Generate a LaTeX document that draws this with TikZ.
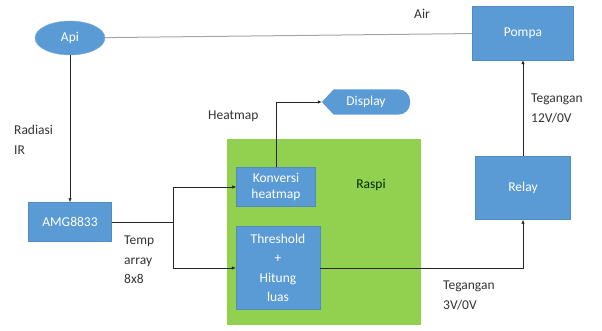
\documentclass[tikz,border=0pt]{standalone}
\usepackage{fontspec}
\setmainfont{Carlito}
\usetikzlibrary{positioning,arrows.meta,shapes.geometric,backgrounds}
\definecolor{boxblue}{RGB}{91,155,213}
\definecolor{boxgreen}{RGB}{146,208,80}

\begin{document}
\begin{tikzpicture}[
    x=1pt, y=-1pt,
    font=\fontsize{13.5}{19.5}\selectfont,
    block/.style={
        rectangle,
        fill=boxblue,
        draw=boxblue!90!black,
        line width=0.4pt,
        text=white,
        align=center,
        inner sep=2pt
    },
    lbl/.style={align=left, inner sep=0pt, text=black!80, anchor=north west},
    arrow/.style={-{Latex[length=4pt,width=3.5pt]}, line width=0.7pt, black!85},
    wire/.style={line width=0.7pt, black!85}
]
\useasboundingbox (0,0) rectangle (602,331);

% blocks
\node[rectangle, fill=boxgreen, minimum width=194pt, minimum height=186pt] (raspi) at (324,232) {};
\node[text=black!75!green!60!black] (raspilbl) at (371,185) {Raspi};
\node[ellipse, fill=boxblue, draw=boxblue!80!white, text=white, minimum width=70pt, minimum height=34pt, inner sep=1pt] (api) at (70,38) {Api};
\node[block, minimum width=101pt, minimum height=54pt] (pompa) at (523,33) {Pompa};
\node[block, minimum width=95pt, minimum height=63pt] (relay) at (523,188) {Relay};
\node[block, minimum width=83pt, minimum height=39pt] (amg) at (70,222) {AMG8833};
\node[block, minimum width=79pt, minimum height=39pt, font=\fontsize{13.5}{16}\selectfont] (konv) at (276,187) {Konversi\\heatmap};
\node[block, minimum width=84pt, minimum height=83pt] (thresh) at (278,268) {Threshold\\+\\Hitung\\luas};
\node[text=white, minimum width=88pt, minimum height=25pt, inner sep=0pt] (disp) at (366,102) {Display};
\begin{scope}[on background layer]
\fill[boxblue] (disp.west) -- ([xshift=12pt]disp.north west) [rounded corners=12pt] -- (disp.north east) -- (disp.south east) [sharp corners] -- ([xshift=12pt]disp.south west) -- cycle;
\end{scope}
\coordinate (split) at (173,222);

% labels
\node[lbl] (airlbl) at (414,9) {Air};
\node[lbl] (radlbl) at (14,125) {Radiasi\\IR};
\node[lbl] (templbl) at (124,236) {Temp\\array\\8x8};
\node[lbl] (heatlbl) at (208,111) {Heatmap};
\node[lbl] (v12lbl) at (531,94) {Tegangan\\12V/0V};
\node[lbl] (v3lbl) at (443,281) {Tegangan\\3V/0V};

% connections
\draw[line width=1pt, black!35] (api) -- (pompa);
\draw[arrow] (api) -- (amg);
\draw[wire] (amg) -- (split);
\draw[arrow] (split) |- (konv);
\draw[arrow] (split) |- (thresh);
\draw[arrow] (konv) |- (disp);
\draw[arrow] (thresh) -| (relay);
\draw[arrow] (relay) -- (pompa);
\end{tikzpicture}
\end{document}
